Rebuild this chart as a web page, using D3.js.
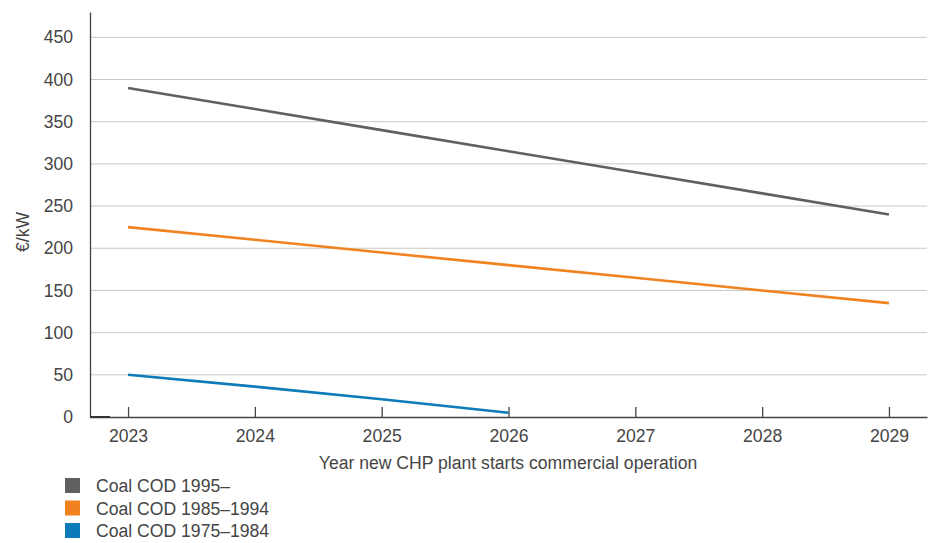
<!DOCTYPE html>
<html><head><meta charset="utf-8">
<script src="https://cdn.jsdelivr.net/npm/d3@7"></script>
<style>body{margin:0;background:#fff}text{font-family:"Liberation Sans",Arial,sans-serif}</style>
</head><body><svg id="c" width="935" height="543"></svg>
<script>
const years = [2023, 2024, 2025, 2026, 2027, 2028, 2029];
const seriesNames = ["Coal COD 1995–", "Coal COD 1985–1994", "Coal COD 1975–1984"];
const coal1995 = [390, 365, 340, 315, 290, 265, 240];
const coal1985 = [225, 210, 195, 180, 165, 150, 135];
const coal1975 = [50, 36, 21, 5];
const yTicks = [0, 50, 100, 150, 200, 250, 300, 350, 400, 450];
const colors = ["#606060", "#f08320", "#0d7bb8"];

const FS = 17.6, TXT = "#454545";
const svg = d3.select("#c");
const L = 90, R = 927, T = 12, B = 417;
const x = d3.scaleLinear().domain([2022.7, 2029.3]).range([L, R]);
const y = d3.scaleLinear().domain([0, 480]).range([B, T]);

// gridlines
svg.append("g").selectAll("line").data(yTicks.filter(d => d > 0)).join("line")
  .attr("x1", L).attr("x2", R).attr("y1", d => y(d)).attr("y2", d => y(d))
  .attr("stroke", "#c8c8c8").attr("stroke-width", 1);

// y axis
const ya = svg.append("g").attr("transform", `translate(${L},0)`)
  .call(d3.axisLeft(y).tickValues(yTicks).tickSize(0).tickPadding(17));
ya.select(".domain").attr("stroke", "#444").attr("stroke-width", 1.3);
ya.selectAll("text").attr("font-size", FS).attr("fill", TXT);

// x axis
const xa = svg.append("g").attr("transform", `translate(0,${B})`)
  .call(d3.axisBottom(x).tickValues(years).tickFormat(d3.format("d")).tickSizeInner(-10).tickSizeOuter(0).tickPadding(13));
xa.select(".domain").attr("stroke", "#444").attr("stroke-width", 1.3);
xa.selectAll(".tick line").attr("stroke", "#444").attr("stroke-width", 1.3);
xa.selectAll("text").attr("font-size", FS).attr("fill", TXT).attr("dy", "0.71em");
svg.append("line").attr("x1", L).attr("x2", L + 20).attr("y1", B).attr("y2", B)
  .attr("stroke", "#333").attr("stroke-width", 2);

// labels
svg.append("text").attr("transform", `translate(29,232) rotate(-90)`)
  .attr("text-anchor", "middle").attr("font-size", FS).attr("fill", TXT).text("€/kW");
svg.append("text").attr("x", 508).attr("y", 469).attr("text-anchor", "middle")
  .attr("font-size", FS).attr("fill", TXT).text("Year new CHP plant starts commercial operation");

// lines
const data = [coal1995, coal1985, coal1975];
const line = d3.line().x((d, i) => x(years[i])).y(d => y(d));
data.forEach((s, k) => {
  svg.append("path").datum(s).attr("d", line).attr("fill", "none")
    .attr("stroke", colors[k]).attr("stroke-width", 2.6);
});

// legend
const lg = svg.append("g").selectAll("g").data(seriesNames).join("g")
  .attr("transform", (d, i) => `translate(65,${478 + i * 22.5})`);
lg.append("rect").attr("width", 15).attr("height", 15).attr("fill", (d, i) => colors[i]);
lg.append("text").attr("x", 31).attr("y", 14).attr("font-size", FS).attr("fill", TXT).text(d => d);
</script></body></html>
